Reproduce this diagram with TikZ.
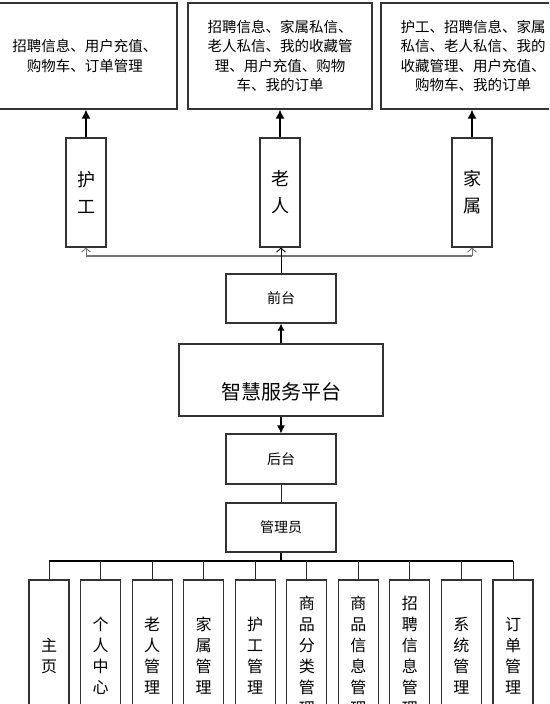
\documentclass[tikz,border=0pt]{standalone}
\usepackage{fontspec}
\newfontfamily\cjk{Noto Sans CJK SC}
\usetikzlibrary{arrows.meta}
\begin{document}
\begin{tikzpicture}[x=1pt,y=-1pt,
  box/.style={draw=black!80, line width=1.1pt, fill=white, inner sep=0pt, align=center},
  topbox/.style={box, minimum width=184pt, minimum height=106pt, font=\cjk\fontsize{14.5}{19.3}\selectfont},
  userbox/.style={box, minimum width=40pt, minimum height=109pt, font=\cjk\fontsize{18}{27}\selectfont},
  midbox/.style={box, minimum width=110pt, minimum height=49pt, font=\cjk\fontsize{14}{17}\selectfont},
  kidbox/.style={box, minimum width=40pt, minimum height=152pt, font=\cjk\fontsize{16}{21}\selectfont},
  uparrow/.style={line width=1.5pt, -{Latex[length=9pt,width=9pt]}},
  openarrow/.style={line width=0.9pt, -{Straight Barb[length=4pt,width=9pt]}},
  graylink/.style={draw=black!55, line width=1.1pt},
  thinlink/.style={draw=black!85, line width=0.9pt},
  buslink/.style={draw=black, line width=1.6pt}
]
\useasboundingbox (0,0) rectangle (549,704);
\fill[white] (0,0) rectangle (549,704);
\begin{scope}
\clip (0,0) rectangle (549,704);

% top function boxes
\node[topbox] (t1) at (85,56) {招聘信息、用户充值、\\购物车、订单管理};
\node[topbox] (t2) at (280,56) {招聘信息、家属私信、\\老人私信、我的收藏管\\理、用户充值、购物\\车、我的订单};
\node[topbox] (t3) at (473,56) {护工、招聘信息、家属\\私信、老人私信、我的\\收藏管理、用户充值、\\购物车、我的订单};

% user boxes
\node[userbox] (u1) at (86,192.5) {护\\工};
\node[userbox] (u2) at (280,192.5) {老\\人};
\node[userbox] (u3) at (472,192.5) {家\\属};

\draw[uparrow] (u1.north) -- (t1.south -| u1.north);
\draw[uparrow] (u2.north) -- (t2.south -| u2.north);
\draw[uparrow] (u3.north) -- (t3.south -| u3.north);

% front / platform / back / admin
\node[midbox] (qt) at (281,298.5) {前台};
\node[box, minimum width=204pt, minimum height=72pt, font=\cjk\fontsize{20}{24}\selectfont] (pf) at (281,380) {\raisebox{-19pt}[0pt][0pt]{智慧服务平台}};
\node[midbox, minimum height=50pt] (ht) at (281,459) {后台};
\node[midbox] (gl) at (281,527.5) {管理员};

\coordinate (j) at (281,256);
\draw[graylink] (j -| u1.south) -- (j -| u3.south);
\draw[openarrow, draw=black!55] (j -| u1.south) -- (u1.south);
\draw[openarrow, draw=black!55] (j -| u3.south) -- (u3.south);
\draw[openarrow, draw=black] (qt.north) -- (qt.north |- u2.south);

\draw[line width=1.2pt, -{Latex[length=7pt,width=7pt]}] (pf.north -| qt.south) -- (qt.south);
\draw[line width=1.2pt, -{Latex[length=8pt,width=8pt]}] (pf.south -| ht.north) -- (ht.north);
\draw[thinlink] (ht.south) -- (gl.north);

% children
\foreach \i/\t in {0/{主\\页},1/{个\\人\\中\\心},2/{老\\人\\管\\理},3/{家\\属\\管\\理},4/{护\\工\\管\\理},5/{商\\品\\分\\类\\管\\理},6/{商\\品\\信\\息\\管\\理},7/{招\\聘\\信\\息\\管\\理},8/{系\\统\\管\\理},9/{订\\单\\管\\理}}{
  \node[kidbox] (k\i) at ({49+51.56*\i},656) {\t};
}
\coordinate (bus) at (281,561);
\draw[buslink] (gl.south) -- (bus);
\draw[buslink] (bus -| k0.north) -- (bus -| k9.north);
\foreach \i in {0,...,9}{
  \draw[thinlink] (bus -| k\i.north) -- (k\i.north);
}
\end{scope}
\end{tikzpicture}
\end{document}
